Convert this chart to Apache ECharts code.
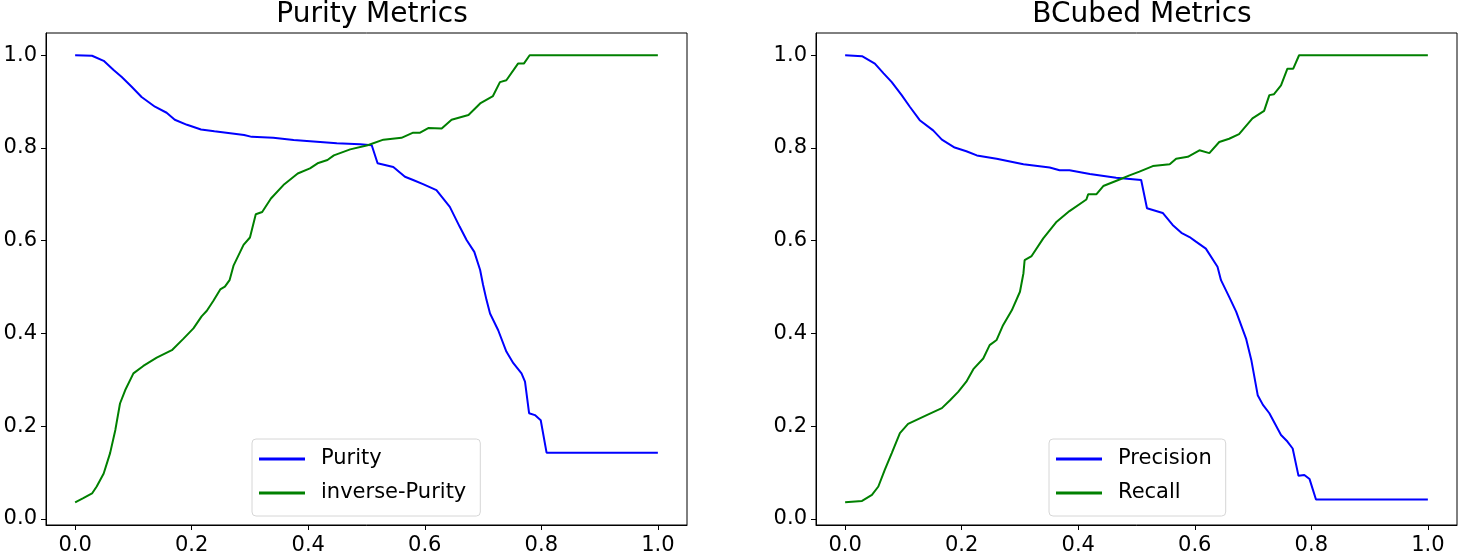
<!DOCTYPE html>
<html lang="en">

<head>
  <meta charset="UTF-8" />
  <script src="https://cdn.jsdelivr.net/npm/echarts/dist/echarts.min.js"></script>
  <title>Purity / BCubed</title>
  <style>
    body { margin: 0; background: #fff; }
  </style>
</head>

<body>
  <div id="main" style="width: 1458px; height: 556px"></div>
  <script type="text/javascript">
    var tickValues = [0, 0.2, 0.4, 0.6, 0.8, 1.0];

    // left panel: Purity Metrics
    var purityX = [0, 0.029, 0.049, 0.066, 0.080, 0.097, 0.114, 0.137, 0.157, 0.171, 0.192, 0.216, 0.239, 0.290, 0.303, 0.340, 0.375, 0.409, 0.449, 0.489, 0.509, 0.519, 0.546, 0.566, 0.580, 0.597, 0.620, 0.643, 0.660, 0.672, 0.685, 0.695, 0.700, 0.706, 0.712, 0.726, 0.740, 0.752, 0.766, 0.772, 0.779, 0.789, 0.799, 0.809, 1.0];
    var purityY = [1.0, 0.999, 0.988, 0.968, 0.953, 0.932, 0.910, 0.889, 0.876, 0.861, 0.850, 0.840, 0.836, 0.828, 0.824, 0.822, 0.817, 0.814, 0.810, 0.808, 0.806, 0.767, 0.759, 0.738, 0.731, 0.722, 0.709, 0.673, 0.630, 0.601, 0.576, 0.537, 0.505, 0.472, 0.443, 0.407, 0.361, 0.336, 0.314, 0.296, 0.228, 0.224, 0.213, 0.143, 0.143];
    var invPurityX = [0, 0.014, 0.029, 0.037, 0.049, 0.060, 0.069, 0.077, 0.086, 0.100, 0.117, 0.140, 0.166, 0.186, 0.203, 0.217, 0.226, 0.237, 0.249, 0.257, 0.265, 0.272, 0.289, 0.300, 0.310, 0.321, 0.336, 0.359, 0.382, 0.403, 0.416, 0.433, 0.444, 0.472, 0.502, 0.529, 0.560, 0.580, 0.592, 0.606, 0.629, 0.646, 0.675, 0.695, 0.717, 0.729, 0.740, 0.760, 0.770, 0.780, 1.0];
    var invPurityY = [0.036, 0.045, 0.055, 0.070, 0.098, 0.142, 0.192, 0.249, 0.278, 0.314, 0.330, 0.348, 0.364, 0.389, 0.411, 0.437, 0.449, 0.470, 0.495, 0.501, 0.515, 0.547, 0.591, 0.607, 0.657, 0.662, 0.691, 0.722, 0.745, 0.756, 0.767, 0.774, 0.784, 0.797, 0.806, 0.818, 0.822, 0.833, 0.833, 0.843, 0.842, 0.861, 0.871, 0.896, 0.912, 0.942, 0.946, 0.982, 0.982, 1.0, 1.0];

    // right panel: BCubed Metrics
    var precisionX = [0, 0.029, 0.051, 0.066, 0.080, 0.097, 0.111, 0.128, 0.151, 0.166, 0.188, 0.208, 0.226, 0.260, 0.306, 0.351, 0.368, 0.385, 0.420, 0.465, 0.508, 0.518, 0.545, 0.562, 0.577, 0.591, 0.602, 0.619, 0.639, 0.645, 0.659, 0.671, 0.688, 0.697, 0.708, 0.717, 0.728, 0.748, 0.759, 0.768, 0.778, 0.788, 0.797, 0.808, 1.0];
    var precisionY = [1.0, 0.998, 0.982, 0.961, 0.942, 0.914, 0.889, 0.860, 0.838, 0.818, 0.801, 0.793, 0.784, 0.777, 0.765, 0.758, 0.752, 0.752, 0.744, 0.736, 0.731, 0.670, 0.660, 0.634, 0.617, 0.608, 0.598, 0.583, 0.544, 0.515, 0.479, 0.447, 0.389, 0.343, 0.267, 0.246, 0.228, 0.181, 0.167, 0.152, 0.093, 0.095, 0.086, 0.042, 0.042];
    var recallX = [0, 0.029, 0.046, 0.057, 0.068, 0.080, 0.094, 0.108, 0.140, 0.166, 0.180, 0.194, 0.208, 0.220, 0.237, 0.248, 0.260, 0.271, 0.286, 0.300, 0.306, 0.308, 0.320, 0.340, 0.363, 0.385, 0.414, 0.417, 0.431, 0.443, 0.471, 0.488, 0.505, 0.528, 0.557, 0.568, 0.588, 0.608, 0.625, 0.642, 0.659, 0.676, 0.699, 0.719, 0.728, 0.736, 0.748, 0.759, 0.769, 0.779, 1.0];
    var recallY = [0.036, 0.039, 0.052, 0.070, 0.106, 0.142, 0.185, 0.205, 0.224, 0.239, 0.256, 0.274, 0.296, 0.323, 0.346, 0.375, 0.386, 0.418, 0.450, 0.490, 0.530, 0.558, 0.567, 0.605, 0.641, 0.664, 0.689, 0.700, 0.700, 0.718, 0.732, 0.741, 0.749, 0.761, 0.765, 0.777, 0.781, 0.795, 0.789, 0.813, 0.820, 0.830, 0.864, 0.880, 0.914, 0.916, 0.935, 0.971, 0.971, 1.0, 1.0];

    var font = "DejaVu Sans";

    function zip(xs, ys) {
      return xs.map(function (x, i) { return [x, ys[i]]; });
    }

    function makeXAxis(idx) {
      return {
        type: "value", gridIndex: idx, min: -0.05, max: 1.05,
        axisLine: { show: true, onZero: false, lineStyle: { color: "#000", width: 1 } },
        axisTick: { show: true, length: 5, customValues: tickValues, lineStyle: { color: "#000" } },
        axisLabel: {
          customValues: tickValues, margin: 10, fontSize: 21, color: "#000", fontFamily: font,
          formatter: function (v) { return v.toFixed(1); }
        },
        splitLine: { show: false }
      };
    }

    function makeYAxis(idx) {
      return {
        type: "value", gridIndex: idx, min: -0.013, max: 1.048,
        axisLine: { show: true, onZero: false, lineStyle: { color: "#000", width: 1 } },
        axisTick: { show: true, length: 5, customValues: tickValues, lineStyle: { color: "#000" } },
        axisLabel: {
          customValues: tickValues, margin: 9, fontSize: 21, color: "#000", fontFamily: font,
          formatter: function (v) { return v.toFixed(1); }
        },
        splitLine: { show: false }
      };
    }

    function makeLegend(names, left) {
      return {
        data: names, orient: "vertical", left: left, top: 439,
        icon: "rect", itemWidth: 46, itemHeight: 3, itemGap: 10,
        padding: [8, 14, 11, 7],
        borderColor: "#d6d6d6", borderWidth: 1, borderRadius: 4,
        backgroundColor: "rgba(255,255,255,0.8)",
        textStyle: { fontSize: 21, color: "#000", fontFamily: font, lineHeight: 24, padding: [0, 0, 0, 11] }
      };
    }

    function makeLine(name, data, color, idx) {
      return {
        name: name, type: "line", data: data,
        xAxisIndex: idx, yAxisIndex: idx,
        showSymbol: false, symbol: "none",
        lineStyle: { color: color, width: 2 },
        itemStyle: { color: color },
        z: 3
      };
    }

    var myChart = echarts.init(document.getElementById("main"));
    myChart.setOption({
      animation: false,
      title: [
        { text: "Purity Metrics", left: 367, textAlign: "center", top: -4,
          textStyle: { fontSize: 28, fontWeight: "normal", color: "#000", fontFamily: font } },
        { text: "BCubed Metrics", left: 1137, textAlign: "center", top: -4,
          textStyle: { fontSize: 28, fontWeight: "normal", color: "#000", fontFamily: font } }
      ],
      grid: [
        { left: 46, top: 33, width: 641, height: 493, show: true, borderColor: "#000", borderWidth: 1 },
        { left: 816, top: 33, width: 641, height: 493, show: true, borderColor: "#000", borderWidth: 1 }
      ],
      xAxis: [makeXAxis(0), makeXAxis(1)],
      yAxis: [makeYAxis(0), makeYAxis(1)],
      legend: [
        makeLegend(["Purity", "inverse-Purity"], 252),
        makeLegend(["Precision", "Recall"], 1049)
      ],
      series: [
        makeLine("Purity", zip(purityX, purityY), "#0000ff", 0),
        makeLine("inverse-Purity", zip(invPurityX, invPurityY), "#008000", 0),
        makeLine("Precision", zip(precisionX, precisionY), "#0000ff", 1),
        makeLine("Recall", zip(recallX, recallY), "#008000", 1)
      ]
    });
  </script>
</body>

</html>
